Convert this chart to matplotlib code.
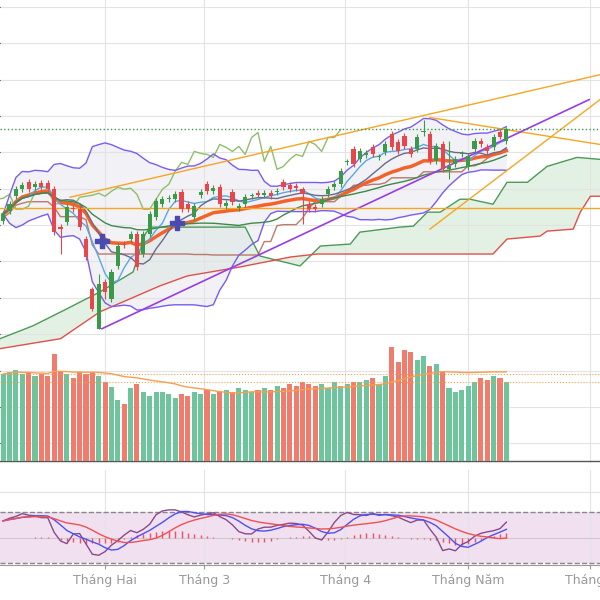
import numpy as np
import pandas as pd
import matplotlib
matplotlib.use('Agg')
import matplotlib.pyplot as plt

# Giá mở / đóng cửa
opens = [27.8, 28.8, 30.3, 31.0, 31.7, 31.2, 31.6, 31.6, 31.0, 27.2,
         27.7, 29.1, 29.0, 26.0, 21.0, 17.0, 21.7, 20.0, 23.3, 25.5,
         26.0, 26.5, 24.5, 26.5, 28.2, 29.5, 30.0, 30.0, 30.7, 29.5,
         28.2, 30.4, 31.5, 30.8, 31.2, 29.3, 30.7, 29.1, 29.5, 30.3,
         30.6, 30.4, 30.6, 30.7, 31.7, 31.4, 31.3, 31.0, 29.5, 29.2,
         29.5, 30.5, 31.2, 31.5, 33.7, 35.0, 34.0, 34.4, 35.2, 34.2,
         34.7, 36.5, 35.7, 36.3, 35.0, 35.0, 36.7, 36.5, 33.8, 35.5,
         33.0, 33.5, 34.5, 33.2, 35.0, 35.8, 35.2, 35.2, 36.7, 35.8]
closes = [28.5, 29.5, 31.0, 31.4, 31.0, 31.5, 31.2, 31.0, 26.7, 27.0,
          29.2, 29.0, 27.2, 24.2, 19.0, 21.5, 20.7, 22.7, 25.3, 25.4,
          26.5, 23.2, 26.5, 28.5, 29.8, 30.0, 30.1, 30.5, 29.0, 29.0,
          29.3, 30.7, 30.8, 31.1, 29.5, 29.6, 29.7, 29.3, 30.2, 30.3,
          30.4, 30.6, 30.3, 30.8, 31.2, 31.0, 31.1, 30.5, 29.0, 29.0,
          30.0, 31.0, 31.5, 32.8, 33.7, 33.5, 34.8, 34.6, 34.5, 34.2,
          35.5, 35.2, 34.8, 35.3, 34.5, 36.2, 36.7, 33.8, 35.3, 33.0,
          33.3, 34.0, 34.5, 34.3, 35.8, 35.5, 34.8, 36.2, 36.2, 37.0]
# bóng nến đặc biệt (chỉ số: (cao, thấp))
wick_special = {9: (27.5, 24.5), 15: (22.5, 17.0), 14: (21.2, 18.8), 16: (22.0, 20.0),
                47: (31.2, 27.5), 66: (38.0, 36.3), 70: (35.8, 32.0), 78: (37.0, 36.0)}

# Khối lượng (chiều cao cột)
volumes = [88, 90, 92, 88, 90, 86, 88, 86, 108, 90,
           88, 84, 90, 88, 90, 86, 80, 75, 62, 58,
           74, 78, 70, 66, 70, 70, 68, 64, 68, 66,
           70, 68, 72, 68, 70, 72, 70, 74, 72, 70,
           72, 74, 72, 76, 74, 78, 76, 80, 78, 76,
           78, 74, 80, 76, 78, 80, 80, 82, 84, 78,
           86, 115, 100, 112, 110, 102, 106, 96, 98, 90,
           74, 70, 72, 76, 80, 84, 82, 86, 84, 80]

# Mây Ichimoku (chỉ số, giá)
spanA_x = [-0.5, 4.7, 10.0, 15.2, 20.4, 22.3, 23.1, 38.0, 40.3, 46.6, 49.8, 54.5, 56.0,
           62.3, 64.4, 66.6, 68.6, 71.7, 73.3, 76.9, 79.1, 82.3, 85.4, 90.1, 93.7]
spanA_y = [16.0, 17.3, 19.0, 20.7, 22.7, 26.5, 27.2, 27.2, 24.3, 23.3, 25.3, 25.5, 26.7,
           27.2, 27.3, 28.7, 28.7, 30.0, 30.0, 29.5, 31.7, 31.7, 33.3, 34.2, 34.0]
spanB_x = [-0.5, 9.0, 15.2, 24.6, 28.9, 37.2, 45.1, 49.3, 76.9, 79.1, 84.3, 85.4, 89.5,
           90.6, 92.2, 93.7]
spanB_y = [15.0, 16.0, 18.7, 21.3, 22.3, 23.2, 24.2, 24.5, 24.5, 26.0, 26.3, 26.8, 27.0,
           28.7, 30.3, 30.3]

month_pos = [16.0, 31.6, 53.7, 73.0, 92.2]
month_labels = ['Tháng Hai', 'Tháng 3', 'Tháng 4', 'Tháng Năm', 'Tháng 6']

# Đường xu hướng vẽ tay: (x0, y0, x1, y1)
trend_orange = [(10.5, 30.2, 93.7, 42.5), (67, 27.0, 93.7, 40.0), (67, 38.2, 93.7, 35.5)]
trend_purple = (15.5, 17.0, 92, 40.0)
level_orange = 29.1
level_green = 37.0
crosses_x = [15.5, 27.3]
crosses_y = [25.8, 27.6]

n = len(opens)
idx = np.arange(n)
o = np.array(opens); c = np.array(closes)
hi = np.maximum(o, c) + 0.3
lo = np.minimum(o, c) - 0.3
for k, (h, l) in wick_special.items():
    hi[k], lo[k] = h, l
s = pd.Series(c)

green, red = '#3a9a48', '#e5474a'
vgreen, vred = '#6ec49c', '#f07c6e'

fig = plt.figure(figsize=(6, 6), dpi=100)
ax = fig.add_axes([0, 0.228, 1, 0.772])
ax2 = fig.add_axes([0, 0.058, 1, 0.158])
XL = (-0.5, 93.7)

# Ichimoku
hh = pd.Series(hi); ll = pd.Series(lo)
kijun = (hh.rolling(26, min_periods=1).max() + ll.rolling(26, min_periods=1).min()) / 2
ax.fill(spanA_x + spanB_x[::-1], spanA_y + spanB_y[::-1], color='#c6e4c8', alpha=0.5, lw=0)
ax.plot(spanA_x, spanA_y, color='#4c9a58', lw=1)
ax.plot(spanB_x, spanB_y, color='#e0504a', lw=1)
ax.plot(idx, kijun, color='#b05a4a', lw=1, alpha=0.8)
ax.plot(idx - 26, c, color='#8fbf6a', lw=1)

# Bollinger
ma20 = s.rolling(20, min_periods=1).mean()
sd = s.rolling(20, min_periods=2).std().fillna(0)
ax.fill_between(idx, ma20 + 2 * sd, ma20 - 2 * sd, color='#e8e8f0', alpha=0.6, lw=0)
ax.plot(idx, ma20 + 2 * sd, color='#7a5cf0', lw=1)
ax.plot(idx, ma20 - 2 * sd, color='#7a5cf0', lw=1)
ax.plot(idx, s.ewm(span=20).mean(), color='#f4622a', lw=2.5)
ax.plot(idx, s.rolling(5, min_periods=1).mean(), color='#58a8e8', lw=1)
ax.plot(idx, s.rolling(10, min_periods=1).mean(), color='#6a6a8a', lw=1)
ax.plot(idx, s.rolling(30, min_periods=1).mean(), color='#3f8a4a', lw=1)

# Trend lines
for x0, y0, x1, y1 in trend_orange:
    ax.plot([x0, x1], [y0, y1], color='#f5a623', lw=1)
ax.plot([trend_purple[0], trend_purple[2]], [trend_purple[1], trend_purple[3]], color='#9a3de0', lw=1.2)
ax.axhline(level_orange, color='#f5a623', lw=1)
ax.axhline(level_green, color='#3a9a48', lw=1, ls=':')

# Candles
for i in range(n):
    col = green if c[i] >= o[i] else red
    ax.vlines(i, lo[i], hi[i], color=col, lw=0.8, zorder=5)
    ax.bar(i, max(abs(c[i] - o[i]), 0.12), bottom=min(o[i], c[i]), width=0.65, color=col, zorder=6)
ax.scatter(crosses_x, crosses_y, marker='P', s=110, color='#4a4ab0', zorder=7)

ax.set_xlim(*XL)
ax.set_ylim(3.5, 50)
ax.set_yticks(np.arange(5.5, 50, 3.65))
ax.set_xticks(month_pos)
ax.grid(True, color='#e3e3e3', lw=0.8)
ax.tick_params(left=False, bottom=False, labelleft=False, labelbottom=False)
for sp in ax.spines.values():
    sp.set_visible(False)
ax.axhline(3.7, color='#555555', lw=1)

# Volume
axv = ax.twinx()
vcol = [vgreen if c[i] >= o[i] else vred for i in range(n)]
axv.bar(idx, volumes, width=0.8, color=vcol)
axv.plot(idx, pd.Series(volumes).rolling(20, min_periods=1).mean(), color='#f5a050', lw=1)
axv.axhline(88, color='#f5a050', lw=0.8, ls=':')
axv.axhline(80, color='#f5a050', lw=0.8, ls=':')
axv.set_ylim(-2, 465)
axv.axis('off')
axv.set_xlim(*XL)

# Oscillator
lo14 = ll.rolling(14, min_periods=1).min(); hi14 = hh.rolling(14, min_periods=1).max()
k = (100 * (s - lo14) / (hi14 - lo14)).rolling(3, min_periods=1).mean()
blue = k.rolling(5, min_periods=1).mean()
redl = k.rolling(12, min_periods=1).mean()
ax2.axhspan(20, 80, color='#f0e0f0', lw=0)
ax2.axhline(80, color='#888888', lw=1, ls='--')
ax2.axhline(20, color='#888888', lw=1, ls='--')
ax2.axhline(50, color='#cccccc', lw=0.8)
ax2.vlines(idx, 50, 50 + (blue - redl) * 0.3, color='#f05060', lw=1)
ax2.plot(idx, k * 0.62 + 22, color='#8a4a8a', lw=1)
ax2.plot(idx, blue * 0.62 + 22, color='#5050f0', lw=1)
ax2.plot(idx, redl * 0.62 + 22, color='#f05050', lw=1)
ax2.set_xlim(*XL)
ax2.set_ylim(17.6, 129)
ax2.set_xticks(month_pos)
ax2.set_xticklabels(month_labels, color='#999999', fontsize=9)
ax2.set_yticks([104])
ax2.grid(True, color='#e3e3e3', lw=0.8)
ax2.tick_params(left=False, labelleft=False, length=3, color='#999999')
for sp in ['top', 'left', 'right']:
    ax2.spines[sp].set_visible(False)
ax2.spines['bottom'].set_color('#999999')

fig.savefig('out.png', dpi=100)
